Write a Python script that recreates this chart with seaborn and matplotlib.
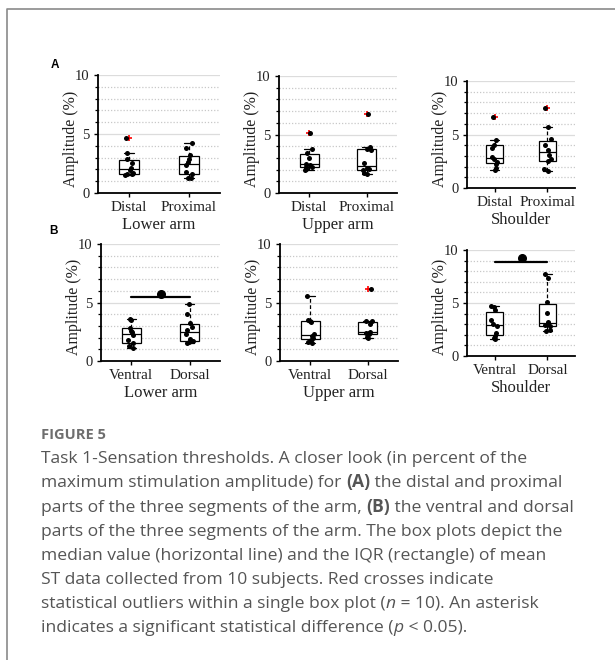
import numpy as np
import pandas as pd
import matplotlib
matplotlib.use("Agg")
import matplotlib.pyplot as plt
from matplotlib.lines import Line2D
from matplotlib.ticker import MultipleLocator
import seaborn as sns

# ---- data: mean sensation thresholds (% of max amplitude), 10 subjects ----
lower_distal = [1.55, 1.58, 1.62, 1.70, 1.95, 2.15, 2.55, 2.90, 3.40, 4.70]
lower_proximal = [1.25, 1.30, 1.60, 1.75, 2.35, 2.60, 2.90, 3.20, 3.80, 4.20]
upper_distal = [1.93, 2.05, 2.20, 2.25, 2.40, 2.50, 3.00, 3.40, 3.80, 5.13]
upper_proximal = [1.62, 1.70, 1.95, 2.05, 2.10, 2.60, 3.70, 3.80, 3.90, 6.71]
shoulder_distal = [1.70, 1.90, 2.25, 2.45, 2.70, 2.90, 3.75, 4.05, 4.50, 6.68]
shoulder_proximal = [1.60, 1.75, 2.50, 2.70, 3.10, 3.55, 4.05, 4.55, 5.68, 7.45]

lower_ventral = [1.14, 1.30, 1.50, 1.80, 2.25, 2.45, 2.60, 2.85, 3.50, 3.60]
lower_dorsal = [1.50, 1.60, 1.70, 1.85, 2.35, 2.65, 2.90, 3.25, 4.00, 4.84]
upper_ventral = [1.50, 1.60, 1.80, 2.00, 2.10, 2.35, 3.33, 3.45, 3.50, 5.58]
upper_dorsal = [1.97, 2.05, 2.33, 2.40, 2.42, 2.50, 3.20, 3.40, 3.45, 6.15]
shoulder_ventral = [1.57, 1.70, 1.90, 2.20, 2.85, 3.00, 3.40, 4.35, 4.60, 4.69]
shoulder_dorsal = [2.36, 2.45, 2.85, 2.90, 3.08, 3.20, 4.09, 5.13, 7.33, 7.77]

parts_a = ["Distal", "Proximal"]
parts_b = ["Ventral", "Dorsal"]
segments = ["Lower arm", "Upper arm", "Shoulder"]
y_ticks = [0, 5, 10]

# significance bars (y of bar, y of marker) for panel B
sig_lower = (5.47, 5.73)
sig_shoulder = (8.87, 9.28)

W, H = 615, 660
sns.set_theme(style="white")
plt.rcParams["font.family"] = ["Liberation Serif", "DejaVu Serif"]

fig = plt.figure(figsize=(W / 100, H / 100), dpi=100)


def px_axes(left, top, right, bottom):
    ax = fig.add_axes([left / W, 1 - bottom / H, (right - left) / W, (bottom - top) / H])
    return ax, right - left, bottom - top


def panel(spec, names, a, b, segment, sig=None):
    ax, wpx, hpx = spec
    df = pd.DataFrame({"part": [names[0]] * len(a) + [names[1]] * len(b),
                       "value": list(a) + list(b)})
    ax.yaxis.grid(True, which="major", color="#dcdcdc", lw=0.9, zorder=0)
    ax.yaxis.grid(True, which="minor", color="#c8c8c8", lw=0.9, ls=(0, (1, 1.5)), zorder=0)
    sns.boxplot(data=df, x="part", y="value", order=names, ax=ax, width=0.33,
                color="white", linecolor="black", linewidth=0.9,
                whiskerprops={"linestyle": (0, (3, 2))},
                flierprops={"marker": "+", "markeredgecolor": "red",
                            "markersize": 5, "markeredgewidth": 1.2})
    sns.stripplot(data=df, x="part", y="value", order=names, ax=ax, color="black",
                  size=3.6, jitter=0.07, zorder=5)
    if sig is not None:
        ax.plot([0, 1], [sig[0], sig[0]], color="black", lw=1.6, zorder=6)
        ax.plot([0.51], [sig[1]], marker="o", color="black", ms=5.5, zorder=6)
    ax.set_ylim(0, 10)
    ax.set_xlim(-0.52, 1.52)
    ax.set_yticks(y_ticks)
    ax.yaxis.set_minor_locator(MultipleLocator(1))
    ax.set_axisbelow(True)
    for s in ("top", "right"):
        ax.spines[s].set_visible(False)
    for s in ("left", "bottom"):
        ax.spines[s].set_color("black")
        ax.spines[s].set_linewidth(1.3)
    ax.tick_params(axis="y", which="major", left=True, length=3, width=1.0, pad=3,
                   labelsize=10.5, color="black", labelcolor="#222222")
    ax.tick_params(axis="y", which="minor", left=True, length=2, width=0.9, color="black")
    ax.tick_params(axis="x", bottom=True, length=3, width=1.0, pad=3,
                   labelsize=11, color="black", labelcolor="#222222")
    ax.set_ylabel("Amplitude (%)", fontsize=11.5, color="#222222")
    ax.set_xlabel(segment, fontsize=12, color="#222222")
    ax.yaxis.set_label_coords(-27 / wpx, 0.46)
    ax.xaxis.set_label_coords(0.5, -32 / hpx)
    ax.xaxis.label.set_va("center")
    ax.yaxis.label.set_va("center")


axes_a = [px_axes(98, 75, 220, 193), px_axes(279, 76, 397, 193), px_axes(467, 81, 575, 188)]
axes_b = [px_axes(101, 244, 220, 361), px_axes(280, 244, 398, 361), px_axes(467, 250, 575, 356)]

panel(axes_a[0], parts_a, lower_distal, lower_proximal, segments[0])
panel(axes_a[1], parts_a, upper_distal, upper_proximal, segments[1])
panel(axes_a[2], parts_a, shoulder_distal, shoulder_proximal, segments[2])
panel(axes_b[0], parts_b, lower_ventral, lower_dorsal, segments[0], sig_lower)
panel(axes_b[1], parts_b, upper_ventral, upper_dorsal, segments[1])
panel(axes_b[2], parts_b, shoulder_ventral, shoulder_dorsal, segments[2], sig_shoulder)

# panel letters
fig.text(55 / W, 1 - 65 / H, "A", fontsize=8.5, fontweight="bold",
         family=["Liberation Sans"], ha="center", va="center", color="black")
fig.text(53 / W, 1 - 231 / H, "B", fontsize=8.5, fontweight="bold",
         family=["Liberation Sans"], ha="center", va="center", color="black")

# frame around the figure block
fig.add_artist(Line2D([7 / W, 7 / W, 1.0], [0.0, 1 - 9 / H, 1 - 9 / H],
                      transform=fig.transFigure, color="#8a8a8a", lw=1.2))

# caption
cap_font = ["Open Sans", "DejaVu Sans"]
cap_color = "#555555"
fig.text(41 / W, 1 - 439 / H, "FIGURE 5", fontsize=10.5, fontweight="bold",
         family=cap_font, color="#6e6e6e", ha="left", va="baseline")

caption = [
    [("Task 1-Sensation thresholds. A closer look (in percent of the", "normal", "normal")],
    [("maximum stimulation amplitude) for ", "normal", "normal"), ("(A)", "bold", "normal"),
     (" the distal and proximal", "normal", "normal")],
    [("parts of the three segments of the arm, ", "normal", "normal"), ("(B)", "bold", "normal"),
     (" the ventral and dorsal", "normal", "normal")],
    [("parts of the three segments of the arm. The box plots depict the", "normal", "normal")],
    [("median value (horizontal line) and the IQR (rectangle) of mean", "normal", "normal")],
    [("ST data collected from 10 subjects. Red crosses indicate", "normal", "normal")],
    [("statistical outliers within a single box plot (", "normal", "normal"), ("n", "normal", "italic"),
     (" = 10). An asterisk", "normal", "normal")],
    [("indicates a significant statistical difference (", "normal", "normal"), ("p", "normal", "italic"),
     (" < 0.05).", "normal", "normal")],
]
baselines = [463, 487, 512, 536, 560, 584, 608, 632]

renderer = fig.canvas.get_renderer()
for runs, yb in zip(caption, baselines):
    x = 41.0
    for txt, weight, style in runs:
        t = fig.text(x / W, 1 - yb / H, txt, fontsize=12.6, fontweight=weight,
                     fontstyle=style, family=cap_font, color=cap_color,
                     ha="left", va="baseline")
        x += t.get_window_extent(renderer).width

fig.savefig("out.png", dpi=100, facecolor="white")
